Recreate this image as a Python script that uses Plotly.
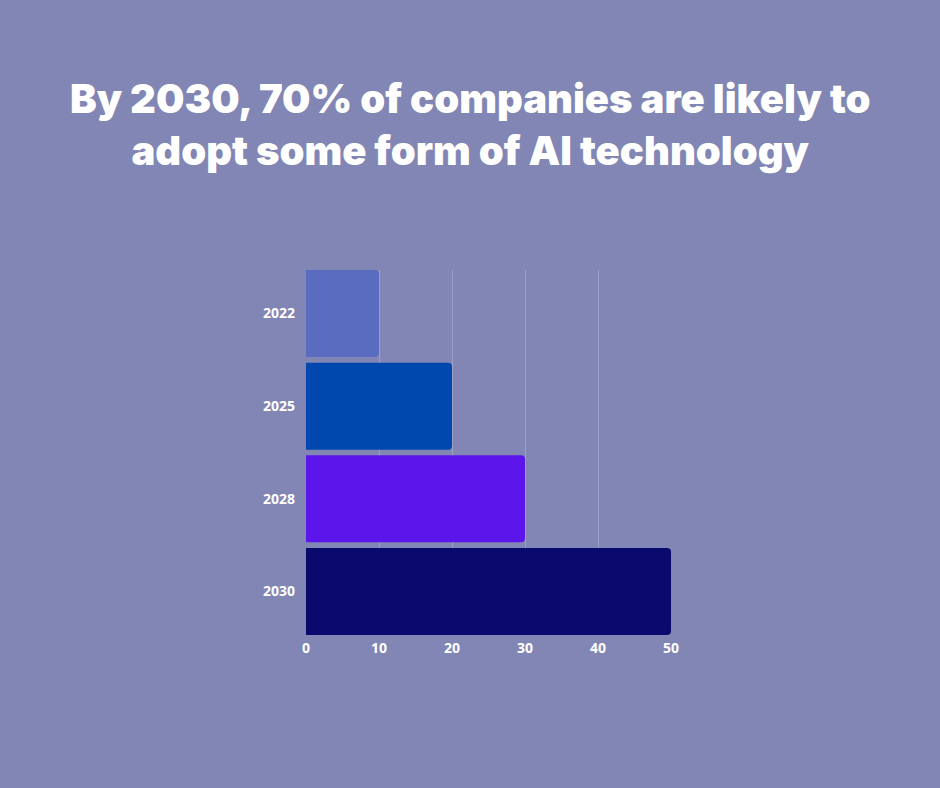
import plotly.graph_objects as go

years = ["2022", "2025", "2028", "2030"]
values = [10, 20, 30, 50]
bar_colors = ["#5A6CBF", "#0048AE", "#5C16EC", "#0A0A6E"]
x_ticks = [0, 10, 20, 30, 40, 50]

title_text = "By 2030, 70% of companies are likely to<br>adopt some form of AI technology"

fig = go.Figure(go.Bar(
    x=values, y=years, orientation="h",
    marker=dict(color=bar_colors, line=dict(width=0)),
))

fig.update_layout(
    width=940, height=788,
    paper_bgcolor="#8186B4", plot_bgcolor="#8186B4",
    margin=dict(l=306, r=269, t=270, b=153),
    bargap=0.06,
    barcornerradius=4,
    showlegend=False,
    font=dict(family="Open Sans", color="white"),
    annotations=[dict(
        text=title_text, x=(470 - 306) / 365, y=1.0 + (270 - 124) / 365,
        xref="paper", yref="paper",
        showarrow=False, xanchor="center", yanchor="middle",
        font=dict(family="Inter", size=40, color="white", weight=900),
        align="center",
    )],
)

fig.update_xaxes(
    range=[0, 50], tickvals=x_ticks, showgrid=True,
    gridcolor="rgba(255,255,255,0.22)", gridwidth=1,
    zeroline=False, showline=False, ticks="",
    ticklabelstandoff=3,
    tickfont=dict(family="Open Sans", size=14, color="white", weight=700),
    fixedrange=True,
)
fig.update_yaxes(
    range=[3.47, -0.47], showgrid=False, zeroline=False, ticks="",
    ticklabelstandoff=10,
    tickfont=dict(family="Open Sans", size=14, color="white", weight=700),
)

fig.write_html(
    "out.html",
    config={"displayModeBar": False},
    post_script="document.body.style.margin='0';document.body.style.overflow='hidden';",
)
